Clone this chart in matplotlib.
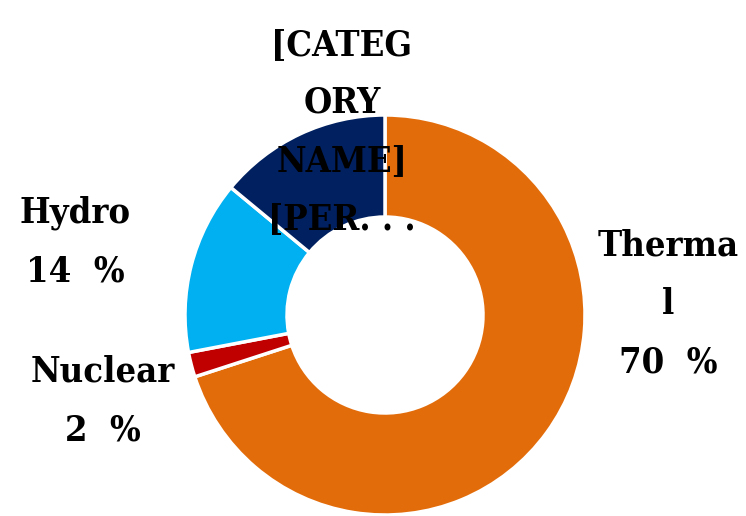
import matplotlib
matplotlib.use("Agg")
import matplotlib.pyplot as plt

# data
categories = ["Thermal", "Nuclear", "Hydro", "[CATEGORY NAME]"]
shares = [70, 2, 14, 14]
colors = ["#E36C0A", "#C00000", "#00B0F0", "#002060"]

# label text as wrapped in the chart
label_texts = ["Therma\nl\n70  %", "Nuclear\n2  %", "Hydro\n14  %", "[CATEG\nORY\nNAME]\n[PER. . ."]
label_pos = [(668, 212), (103, 115), (75, 274), (342, 384)]

fig = plt.figure(figsize=(7.46, 5.16), dpi=100)
ax = fig.add_axes([0, 0, 1, 1])

ax.pie(shares, radius=200, center=(385, 201), startangle=90, counterclock=False,
       colors=colors, wedgeprops=dict(width=102, edgecolor="white", linewidth=2.5))

font = dict(family="DejaVu Serif", stretch="condensed", weight="bold", size=26)
for txt, (x, y) in zip(label_texts, label_pos):
    ax.text(x, y, txt, ha="center", va="center", linespacing=1.9, **font)

ax.set_xlim(0, 746)
ax.set_ylim(0, 516)
ax.set_aspect("equal")
ax.axis("off")

fig.savefig("out.png", dpi=100)
